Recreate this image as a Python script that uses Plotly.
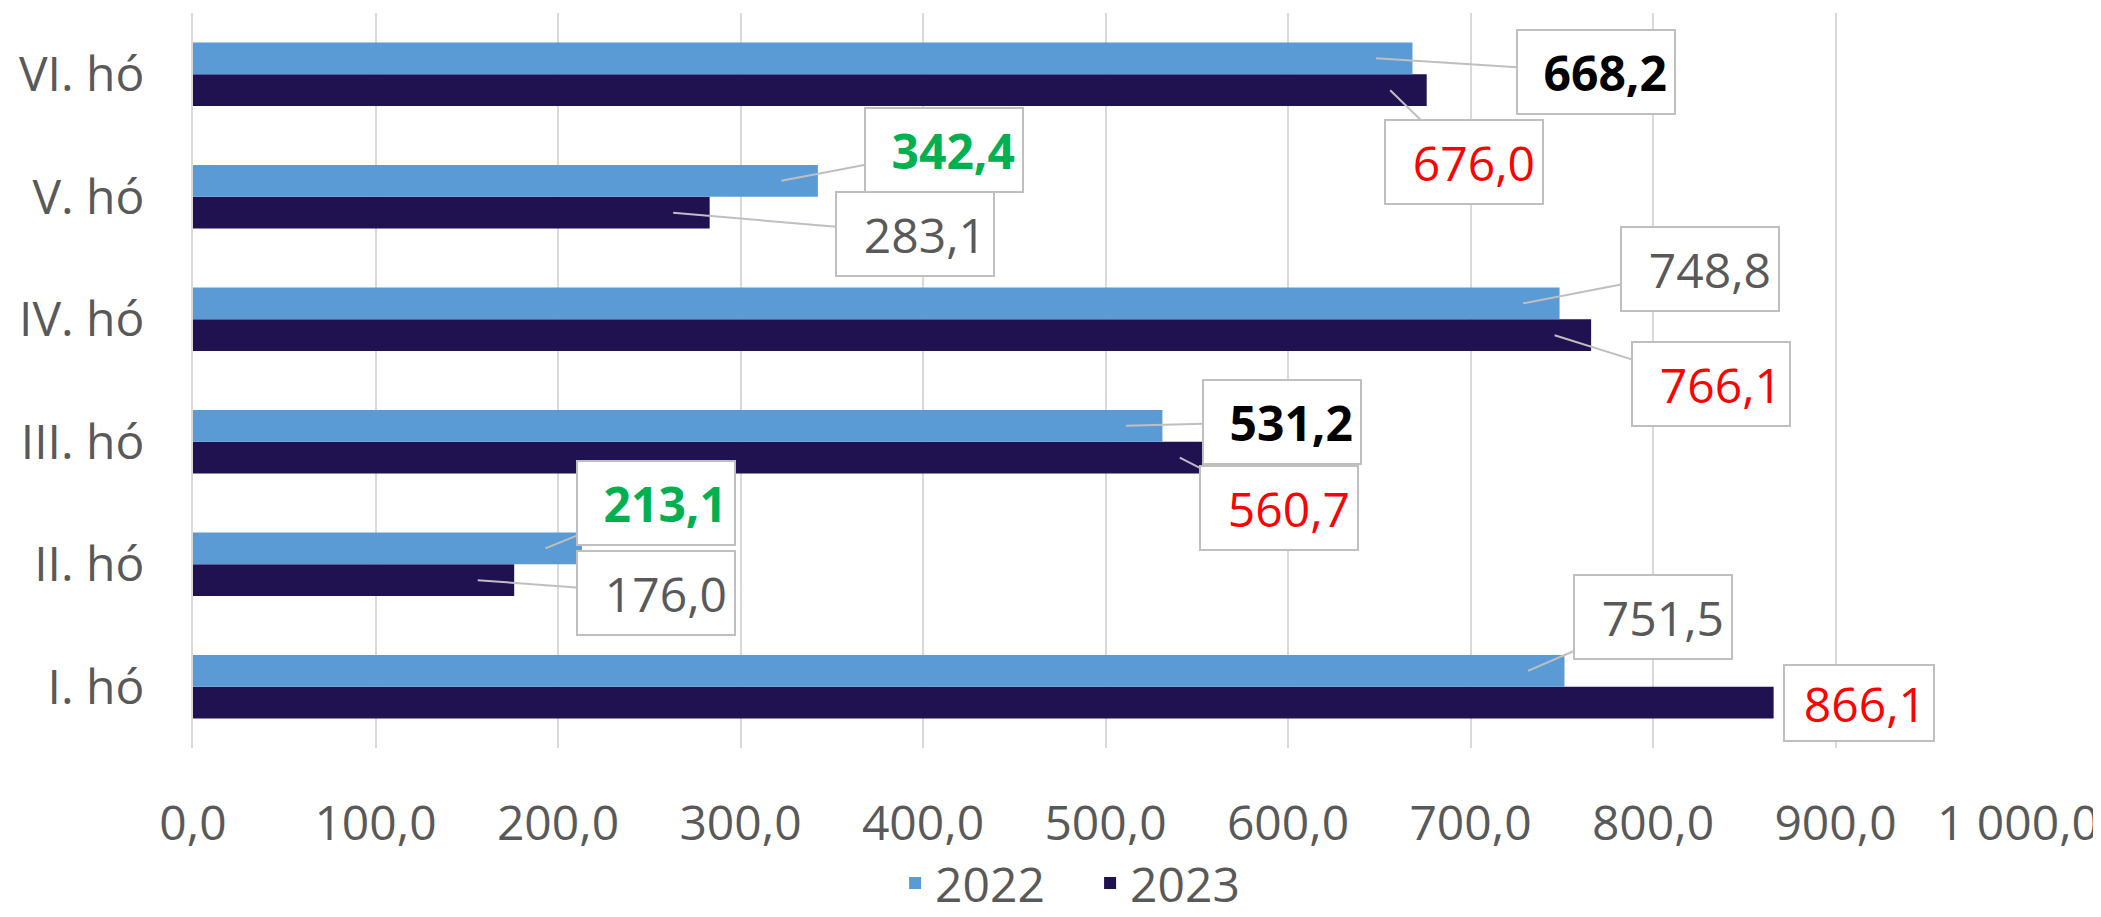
import plotly.graph_objects as go

# havi adatok (I. hó alul, VI. hó felül)
months = ['I. hó', 'II. hó', 'III. hó', 'IV. hó', 'V. hó', 'VI. hó']
values_2022 = [751.5, 213.1, 531.2, 748.8, 342.4, 668.2]
values_2023 = [866.1, 176.0, 560.7, 766.1, 283.1, 676.0]
x_ticks = [0, 100, 200, 300, 400, 500, 600, 700, 800, 900, 1000]

COLOR_2022 = '#5B9BD5'
COLOR_2023 = '#201150'
GRAY = '#595959'
RED = '#FF0000'
GREEN = '#00B050'
BLACK = '#000000'
FONT = 'Open Sans'
FS = 48

# label styles: (colour, bold)
styles_2022 = [(GRAY, False), (GREEN, True), (BLACK, True), (GRAY, False), (GREEN, True), (BLACK, True)]
styles_2023 = [(RED, False), (GRAY, False), (RED, False), (RED, False), (GRAY, False), (RED, False)]

# callout box offsets from the pointer tip, in pixels (dx, dy)
offsets_2022 = [(125, -54), (111, -45), (156, -4), (177, -34), (163, -31), (220, 14)]
offsets_2023 = [None, (178, 13), (99, 50), (156, 49), (242, 21), (74, 72)]


def hu(v):
    return f'{v:.1f}'.replace('.', ',')


fig = go.Figure()
# 2023 first so it sits below 2022 within each group
fig.add_trace(go.Bar(y=months, x=values_2023, name='2023', orientation='h',
                     marker=dict(color=COLOR_2023, line=dict(width=0))))
fig.add_trace(go.Bar(y=months, x=values_2022, name='2022', orientation='h',
                     marker=dict(color=COLOR_2022, line=dict(width=0))))

annotations = []
for vals, styles, offs, shift in [(values_2022, styles_2022, offsets_2022, 0.13),
                                  (values_2023, styles_2023, offsets_2023, -0.13)]:
    for i, v in enumerate(vals):
        color, bold = styles[i]
        txt = hu(v)
        if bold:
            txt = f'<b>{txt}</b>'
        if offs[i] is None:
            # plain square label to the right of the bar
            annotations.append(dict(
                x=v, y=i + shift, xref='x', yref='y', text=txt, showarrow=False,
                xanchor='left', xshift=9, font=dict(family=FONT, size=FS, color=color),
                bgcolor='white', bordercolor='#BFBFBF', borderwidth=2, borderpad=7,
                width=134, height=60, align='right'))
            continue
        dx, dy = offs[i]
        annotations.append(dict(
            x=v - 20, y=i + shift, xref='x', yref='y', text=txt,
            showarrow=True, arrowhead=0, arrowwidth=2, arrowcolor='#BFBFBF',
            ax=dx, ay=dy, standoff=0,
            font=dict(family=FONT, size=FS, color=color),
            bgcolor='white', bordercolor='#BFBFBF', borderwidth=2, borderpad=7,
            width=142, height=68, align='right'))

# the page adds an 8px body margin, so the figure is 8px smaller than the window
fig.update_layout(
    width=2093, height=909,
    margin=dict(l=185, r=83, t=5, b=169, autoexpand=False),
    plot_bgcolor='white', paper_bgcolor='white',
    separators=', ',
    barmode='group', bargap=0.48, bargroupgap=0,
    font=dict(family=FONT, size=FS, color=GRAY),
    showlegend=True,
    legend=dict(orientation='h', traceorder='reversed',
                xref='container', x=0.517, xanchor='center',
                yref='container', y=0.037, yanchor='middle',
                font=dict(family=FONT, size=FS, color=GRAY),
                itemwidth=30, entrywidth=150),
    annotations=annotations,
)
fig.update_xaxes(range=[0, 1000], tickvals=x_ticks, tickformat=',.1f',
                 showgrid=True, gridcolor='#D9D9D9', gridwidth=2,
                 zeroline=False, showline=False, ticks='', ticklabelstandoff=43,
                 automargin=False)
fig.update_yaxes(categoryorder='array', categoryarray=months,
                 showgrid=False, showline=True, linecolor='#D9D9D9', linewidth=2,
                 ticks='', ticklabelstandoff=37, automargin=False)

fig.write_html('out.html')
